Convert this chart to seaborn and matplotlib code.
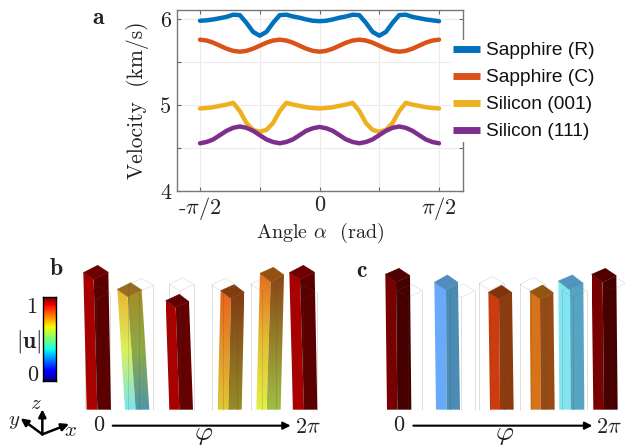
import numpy as np
import pandas as pd
import matplotlib
matplotlib.use('Agg')
import matplotlib.pyplot as plt
from matplotlib.patches import Polygon
import seaborn as sns

sns.set_style('white')
plt.rcParams['font.family'] = ['cmr10', 'DejaVu Serif']
plt.rcParams['mathtext.fontset'] = 'cm'
plt.rcParams['axes.unicode_minus'] = False

INK = '#222222'

# panel a, values read every 5 degrees
angle_deg = list(range(-90, 95, 5))
sapphire_r = [5.98, 5.985, 5.995, 6.01, 6.025, 6.05, 6.045, 5.955, 5.85, 5.806,
              5.85, 5.955, 6.045, 6.05, 6.03, 6.015, 5.995, 5.98, 5.975,
              5.98, 5.995, 6.015, 6.03, 6.05, 6.045, 5.955, 5.85, 5.806,
              5.85, 5.955, 6.045, 6.05, 6.025, 6.01, 5.995, 5.985, 5.975]
sapphire_c = [5.76, 5.75, 5.725, 5.69, 5.655, 5.63, 5.62, 5.63, 5.655, 5.69,
              5.725, 5.75, 5.76, 5.75, 5.725, 5.69, 5.655, 5.63, 5.62,
              5.63, 5.655, 5.69, 5.725, 5.75, 5.76, 5.75, 5.725, 5.69,
              5.655, 5.63, 5.62, 5.63, 5.655, 5.69, 5.725, 5.75, 5.76]
silicon_001 = [4.96, 4.965, 4.975, 4.99, 5.005, 5.025, 4.93, 4.79, 4.71, 4.69,
               4.71, 4.79, 4.93, 5.025, 5.005, 4.99, 4.975, 4.965, 4.96,
               4.965, 4.975, 4.99, 5.005, 5.025, 4.93, 4.79, 4.71, 4.69,
               4.71, 4.79, 4.93, 5.025, 5.005, 4.99, 4.975, 4.965, 4.96]
silicon_111 = [4.555, 4.57, 4.60, 4.65, 4.70, 4.735, 4.75, 4.735, 4.70, 4.65,
               4.60, 4.57, 4.555, 4.57, 4.60, 4.65, 4.70, 4.73, 4.745,
               4.73, 4.70, 4.65, 4.60, 4.57, 4.555, 4.57, 4.60, 4.65,
               4.70, 4.735, 4.75, 4.735, 4.70, 4.65, 4.60, 4.57, 4.555]
series_names = ['Sapphire (R)', 'Sapphire (C)', 'Silicon (001)', 'Silicon (111)']
series_colors = ['#0072BD', '#D95319', '#EDB120', '#7E2F8E']

# panels b and c: beam outlines as L, B, R, F of the top then BL, BF, BR of the foot
beams_b = [
    [(250, 68), (293, 46), (325, 67), (281, 88), (260, 479), (292, 479), (333, 479)],
    [(352, 118), (392, 98), (425, 120), (383, 140), (375, 479), (407, 479), (448, 479)],
    [(497, 152), (538, 133), (567, 155), (527, 172), (508, 479), (538, 479), (579, 479)],
    [(662, 122), (702, 104), (733, 127), (693, 145), (653, 479), (685, 479), (725, 479)],
    [(780, 70), (820, 52), (852, 75), (812, 95), (769, 479), (800, 479), (842, 479)],
    [(868, 68), (910, 46), (944, 67), (900, 88), (879, 479), (912, 479), (952, 479)],
]
left_colors_b = [
    ['#a80000', '#aa0000'],
    ['#ebb432', '#dcf05a', '#78e6f0'],
    ['#aa0000', '#aa0000'],
    ['#e6641e', '#e1c832'],
    ['#e66e1e', '#e6be32', '#e1f046'],
    ['#a80000', '#aa0000'],
]
right_colors_b = [
    ['#5a0000', '#5a0000'],
    ['#a58c28', '#8caa46', '#5096aa'],
    ['#640000', '#640000'],
    ['#823c14', '#968c28'],
    ['#8c4614', '#a0be46'],
    ['#5a0000', '#5a0000'],
]
top_colors_b = ['#6e0000', '#966e1e', '#640000', '#823c0f', '#96500f', '#6e0000']
wires_b = [(255, 128), (385, 105), (507, 103), (635, 105), (752, 103), (875, 128)]

beams_c = [
    [(196, 73), (237, 55), (270, 77), (228, 97), (201, 479), (232, 479), (274, 479)],
    [(343, 97), (382, 75), (414, 97), (378, 120), (348, 479), (380, 479), (420, 479)],
    [(505, 127), (545, 106), (576, 128), (537, 147), (510, 479), (540, 479), (581, 479)],
    [(629, 125), (668, 105), (700, 128), (660, 147), (632, 479), (662, 479), (704, 479)],
    [(715, 93), (757, 75), (790, 100), (750, 120), (718, 479), (752, 479), (793, 479)],
    [(815, 73), (856, 55), (889, 77), (848, 97), (820, 479), (852, 479), (893, 479)],
]
left_colors_c = [['#780000'] * 2, ['#69aafa'] * 2, ['#cd3c0f'] * 2,
                 ['#d77319'] * 2, ['#82e6f0'] * 2, ['#780000'] * 2]
right_colors_c = [['#460000'] * 2, ['#4b8cb4'] * 2, ['#8c3c0f'] * 2,
                  ['#964b14'] * 2, ['#55a5c3'] * 2, ['#460000'] * 2]
top_colors_c = ['#500000', '#508cbe', '#82320a', '#96550f', '#5096be', '#500000']
wires_c = [(232, 122), (390, 122), (477, 100), (600, 103), (725, 122), (842, 100)]


def draw_face(ax, corners, stops):
    # gradient runs top to bottom, clipped to the face outline
    rgb = np.array([matplotlib.colors.to_rgb(c) for c in stops])
    pos = np.linspace(0, 1, len(rgb))
    t = np.linspace(0, 1, 200)
    grad = np.stack([np.interp(t, pos, rgb[:, k]) for k in range(3)], axis=1)[:, None, :]
    xs = [c[0] for c in corners]
    ys = [c[1] for c in corners]
    im = ax.imshow(grad, extent=(min(xs), max(xs), max(ys), min(ys)), aspect='auto', zorder=2)
    im.set_clip_path(Polygon(corners, transform=ax.transData))


def draw_wire(ax, x, y):
    box_x = [x, x + 40, x + 75, x + 33, x]
    box_y = [y, y - 20, y, y + 20, y]
    ax.plot(box_x, box_y, color='#666666', lw=0.4, alpha=0.25, zorder=3)
    for dx, dy in [(0, 0), (33, 20), (75, 0)]:
        ax.plot([x + dx, x + dx], [y + dy, 479], color='#444444', lw=0.4, alpha=0.3, zorder=3)


def draw_beams(ax, beams, lefts, rights, tops, wires):
    for beam, lc, rc, tc, wire in zip(beams, lefts, rights, tops, wires):
        L, B, R, F, BL, BF, BR = beam
        draw_face(ax, [L, F, BF, BL], lc)
        draw_face(ax, [F, R, BR, BF], rc)
        ax.fill([L[0], B[0], R[0], F[0]], [L[1], B[1], R[1], F[1]], color=tc, lw=0.4, zorder=2)
        draw_wire(ax, *wire)
    ax.set_xlim(0, 960 if ax is ax_b else 915)
    ax.set_ylim(591, 0)


def draw_axis_arrow(ax, x0, x1, zero_x, two_pi_x, phi_x):
    ax.annotate('', xy=(x1, 527), xytext=(x0, 527),
                arrowprops=dict(arrowstyle='-|>', color='black', lw=1.5, mutation_scale=11, shrinkA=0, shrinkB=0))
    ax.text(zero_x, 525, '0', fontsize=16, color=INK, ha='center', va='center')
    ax.text(two_pi_x, 531, r'2$\pi$', fontsize=16, color=INK, ha='center', va='center')
    ax.text(phi_x, 552, r'$\varphi$', fontsize=20, color=INK, ha='center', va='center')


fig = plt.figure(figsize=(6.25, 4.47), dpi=100)

# panel a
ax = fig.add_axes([177 / 625, 1 - 191 / 447, 286 / 625, 181 / 447])
df = pd.concat([pd.DataFrame({'angle': np.radians(angle_deg), 'velocity': vals, 'material': name})
                for name, vals in zip(series_names, [sapphire_r, sapphire_c, silicon_001, silicon_111])])
sns.lineplot(data=df, x='angle', y='velocity', hue='material', palette=series_colors,
             hue_order=series_names, errorbar=None, linewidth=3.2, ax=ax)
for line in ax.get_lines():
    line.set_solid_joinstyle('round')
ax.set_xlim(-1.873, 1.886)
ax.set_ylim(4, 6.105)
ax.set_xticks(np.radians([-90, -45, 0, 45, 90]))
ax.set_xticklabels([r'-$\pi$/2', '', '0', '', r'$\pi$/2'], fontsize=16, color=INK)
ax.set_yticks([4, 4.5, 5, 5.5, 6])
ax.set_yticklabels(['4', '', '5', '', '6'], fontsize=16, color=INK)
ax.set_xlabel(r'Angle $\alpha$  (rad)', fontsize=14.5, color=INK, labelpad=-1)
ax.set_ylabel('Velocity  (km/s)', fontsize=15.5, color=INK, labelpad=8)
ax.grid(True, color='#ebebeb', lw=0.8)
ax.tick_params(axis='x', direction='in', length=3, width=0.8, color='#666666', top=True, bottom=True, pad=3)
ax.tick_params(axis='y', direction='in', length=3, width=0.8, color='#666666', right=True, left=True, pad=4)
for s in ax.spines.values():
    s.set_color('#777777')
    s.set_linewidth(1.0)
leg = ax.legend(loc='upper left', bbox_to_anchor=(451 / 625, 1 - 40 / 447), bbox_transform=fig.transFigure,
                frameon=True, framealpha=1, edgecolor='none', facecolor='white', borderaxespad=0, borderpad=0.1,
                handlelength=1.4, handletextpad=0.3, labelspacing=0.5,
                prop={'family': 'Liberation Sans', 'size': 13.8})
leg.set_zorder(20)
for line in leg.get_lines():
    line.set_linewidth(5)
    line.set_solid_capstyle('butt')
for t in leg.get_texts():
    t.set_color('#111111')

# schematic panels, in their own pixel grids
ax_b = fig.add_axes([0, 0, 320 / 625, 197 / 447])
ax_b.axis('off')
draw_beams(ax_b, beams_b, left_colors_b, right_colors_b, top_colors_b, wires_b)
draw_axis_arrow(ax_b, 338, 872, 295, 925, 610)

ax_c = fig.add_axes([320 / 625, 0, 305 / 625, 197 / 447])
ax_c.axis('off')
draw_beams(ax_c, beams_c, left_colors_c, right_colors_c, top_colors_c, wires_c)
draw_axis_arrow(ax_c, 280, 817, 237, 868, 553)

bold = dict(family='cmb10', fontsize=17, color=INK, ha='center', va='center')
fig.text(98 / 625, 1 - 18 / 447, 'a', **bold)
ax_b.text(170, 58, 'b', **bold)
ax_c.text(125, 62, 'c', **bold)

# colour bar
cax = fig.add_axes([43 / 625, 1 - 381 / 447, 13 / 625, 84 / 447])
cax.imshow(np.linspace(1, 0, 200)[:, None], cmap='jet', aspect='auto')
cax.set_xticks([])
cax.set_yticks([])
for s in cax.spines.values():
    s.set_color('black')
    s.set_linewidth(1.0)
ax_b.text(95, 172, '1', fontsize=16, color=INK, ha='center', va='center')
ax_b.text(98, 375, '0', fontsize=16, color=INK, ha='center', va='center')
ax_b.text(85, 275, r'$|\mathbf{u}|$', fontsize=17, color=INK, ha='center', va='center')

# coordinate triad
for tip in [(207, 522), (62, 505), (127, 478)]:
    ax_b.annotate('', xy=tip, xytext=(127, 553),
                  arrowprops=dict(arrowstyle='-|>', color='black', lw=1.8, mutation_scale=11, shrinkA=0, shrinkB=0))
ax_b.text(108, 462, r'$z$', fontsize=15, color=INK, ha='center', va='center')
ax_b.text(42, 517, r'$y$', fontsize=15, color=INK, ha='center', va='center')
ax_b.text(212, 542, r'$x$', fontsize=15, color=INK, ha='center', va='center')

fig.savefig('out.png', dpi=100)
